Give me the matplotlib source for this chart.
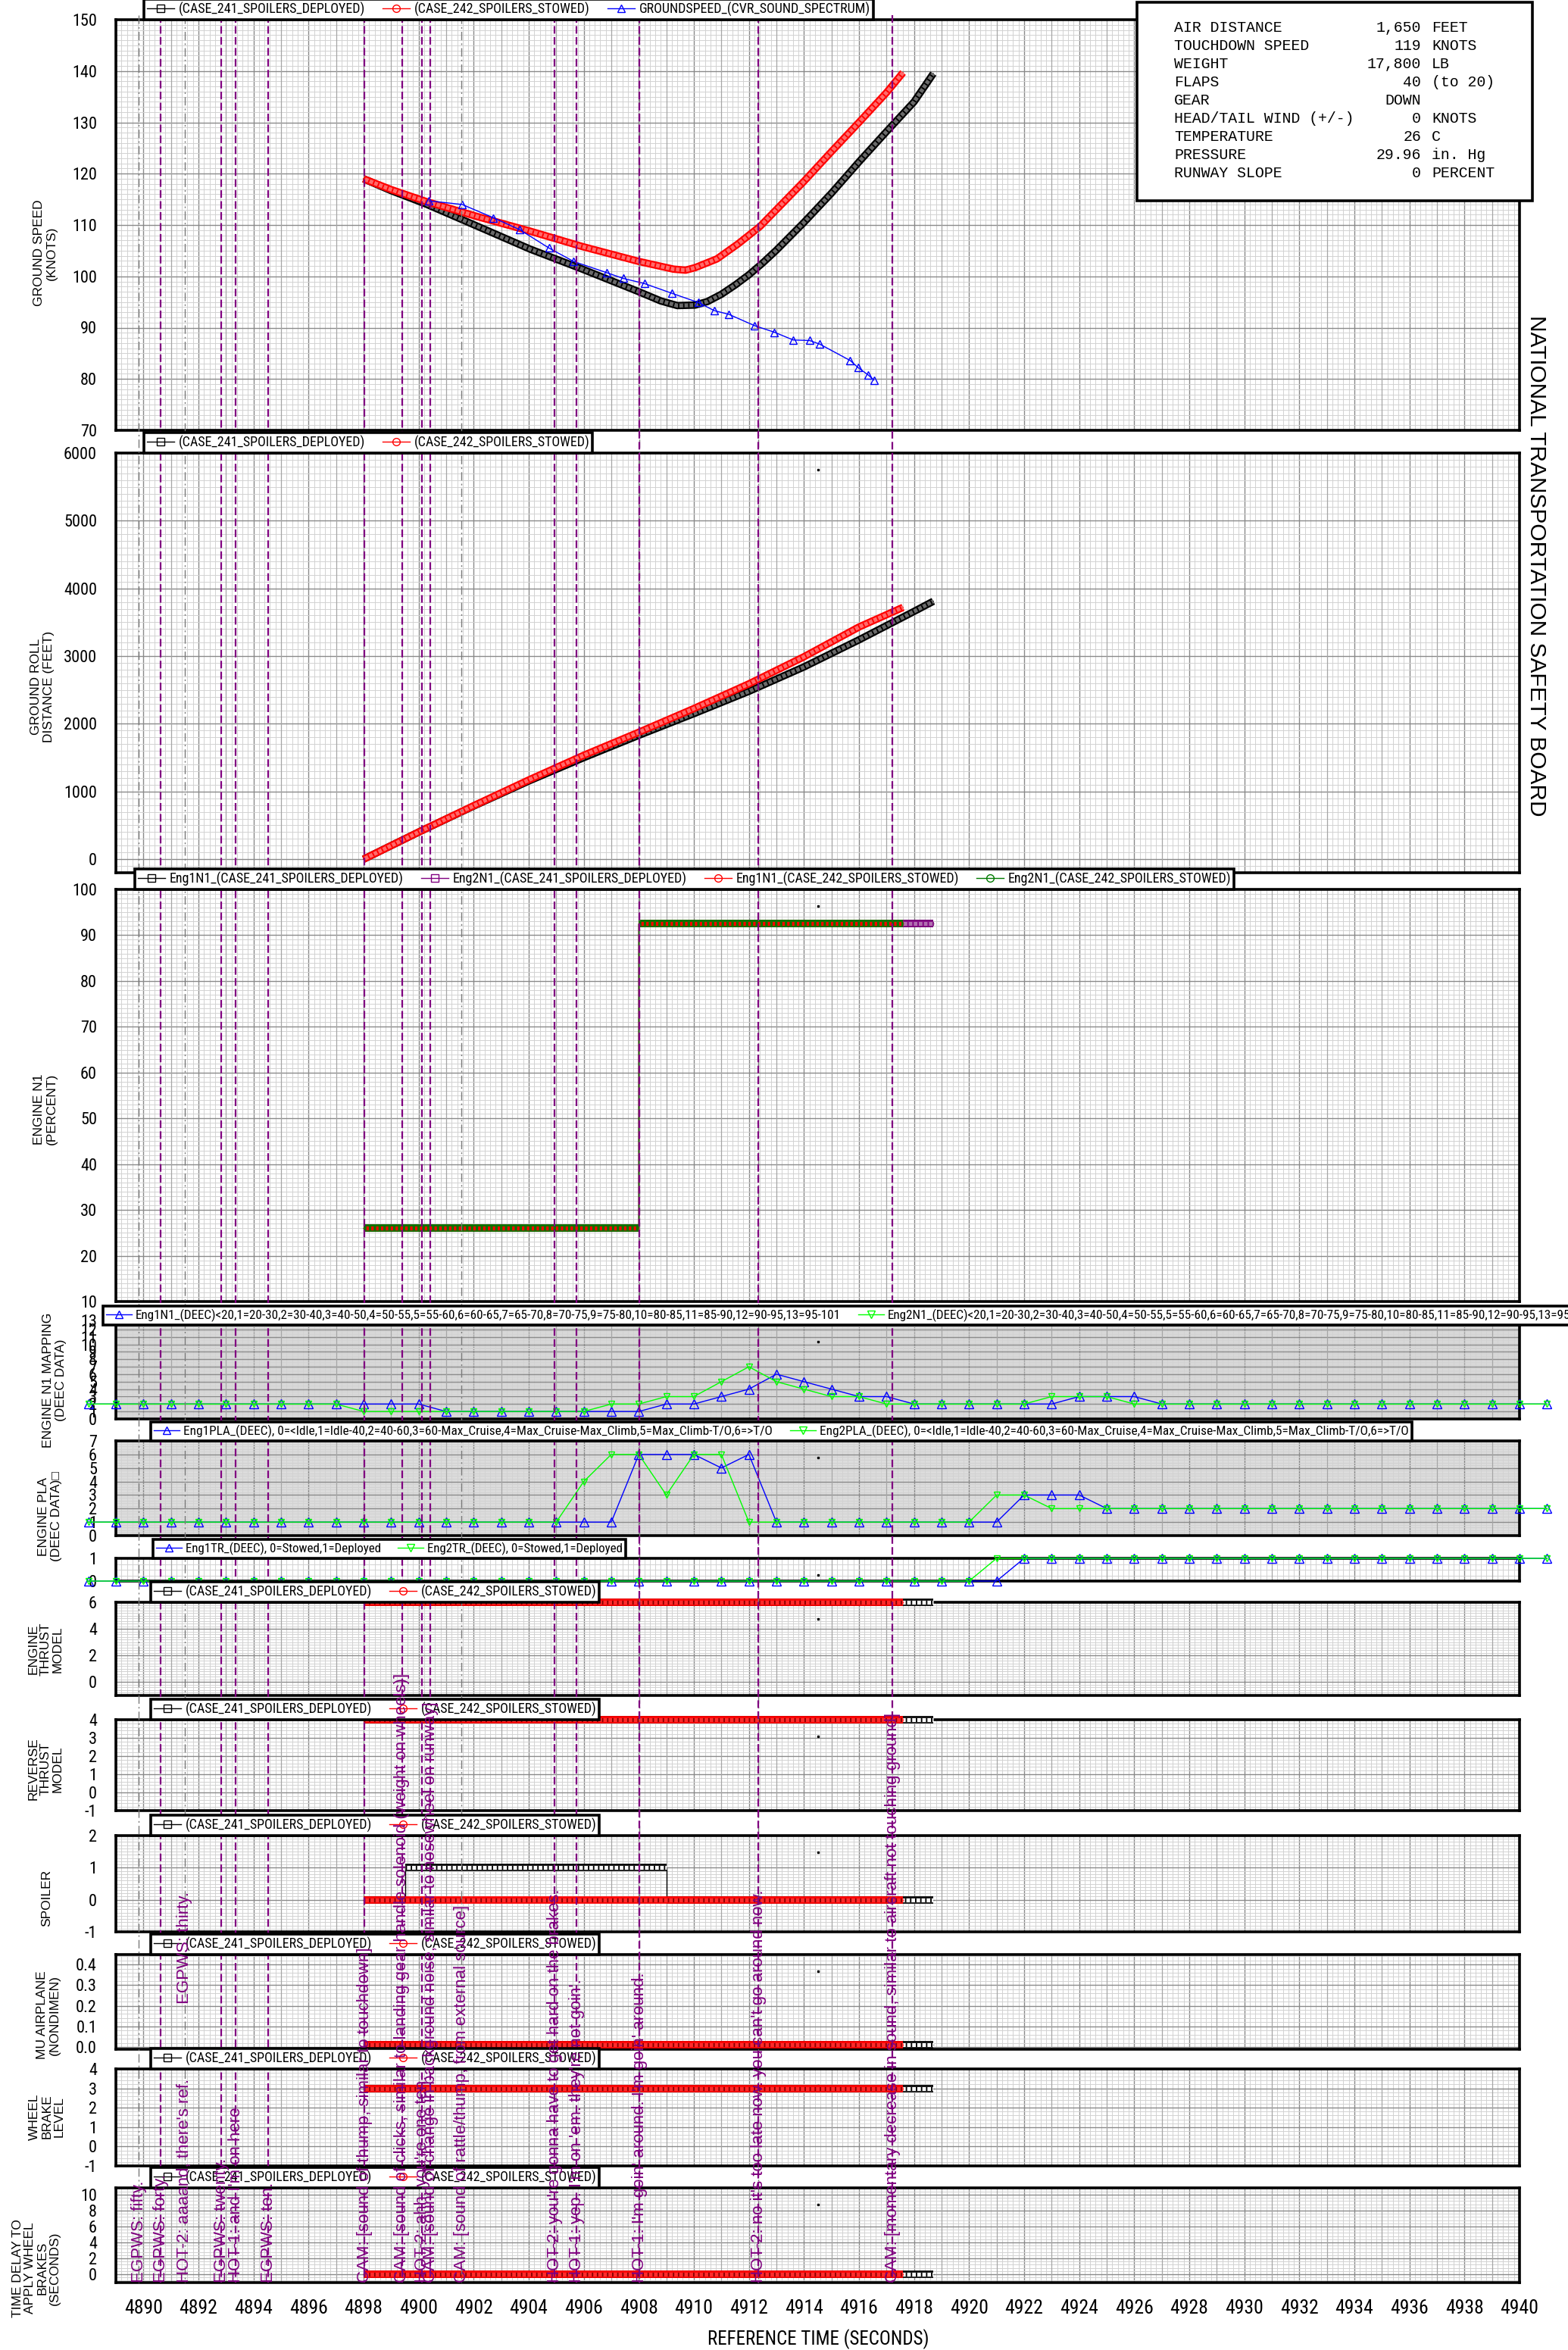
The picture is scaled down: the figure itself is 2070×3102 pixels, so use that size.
import numpy as np
import matplotlib
matplotlib.use("Agg")
import matplotlib.pyplot as plt
import matplotlib.transforms as mtransforms
from matplotlib.lines import Line2D
from matplotlib.patches import Rectangle
from matplotlib.ticker import MultipleLocator
from matplotlib import font_manager as fm
from matplotlib.font_manager import FontProperties

# ---------------------------------------------------------------- fonts
_entries = fm.fontManager.ttflist
_avail = {f.name for f in _entries}


def _is_regular(f):
    return f.style == "normal" and str(f.weight).lower() in ("400", "normal", "regular", "book")


def _find_narrow():
    prefs = ["Liberation Sans Narrow", "Arial Narrow", "Roboto Condensed", "Noto Sans Condensed",
             "DejaVu Sans Condensed", "Open Sans Condensed", "Noto Sans Display Condensed"]
    for p in prefs:
        for f in _entries:
            if f.name == p and _is_regular(f):
                return f.fname
    for fam in ["Liberation Sans", "Roboto", "Noto Sans", "DejaVu Sans", "Open Sans", "Lato", "Inter"]:
        for f in _entries:
            if f.name == fam and _is_regular(f) and str(f.stretch).lower() in ("condensed", "semi-condensed"):
                return f.fname
    for f in _entries:
        if ("Condensed" in f.name or "Narrow" in f.name) and _is_regular(f) and "Mono" not in f.name:
            return f.fname
    for fam in ["Roboto", "Liberation Sans"]:
        if fam in _avail:
            return fm.findfont(FontProperties(family=fam))
    return fm.findfont(FontProperties(family="DejaVu Sans"))


NARROW_FILE = _find_narrow()


def narrow(size):
    return FontProperties(fname=NARROW_FILE, size=size)


SANS = "Liberation Sans" if "Liberation Sans" in _avail else "DejaVu Sans"
MONO = "Liberation Mono" if "Liberation Mono" in _avail else "DejaVu Sans Mono"
plt.rcParams["font.family"] = [SANS, "DejaVu Sans"]

# ---------------------------------------------------------------- data
# Ground speed (knots)
gs241_t = [4898.0, 4899.0, 4900.26, 4902.16, 4904.05, 4905.95, 4908.0, 4908.8, 4909.4,
           4910.05, 4910.5, 4911.0, 4911.5, 4912.0, 4912.5, 4913.0, 4914.0, 4915.0,
           4916.0, 4917.0, 4918.0, 4918.7]
gs241_v = [119.0, 116.7, 114.1, 109.7, 105.3, 101.4, 97.0, 95.2, 94.3,
           94.4, 95.1, 96.5, 98.3, 100.3, 102.6, 105.1, 110.5, 116.2,
           122.3, 128.2, 134.0, 139.5]
gs242_t = [4898.0, 4899.0, 4900.26, 4902.16, 4904.05, 4905.95, 4908.0, 4909.26, 4909.7,
           4910.05, 4910.84, 4911.6, 4912.4, 4913.2, 4914.0, 4915.0, 4916.0, 4917.0, 4917.6]
gs242_v = [119.0, 116.9, 114.6, 111.6, 108.8, 105.8, 102.9, 101.4, 101.2,
           101.7, 103.4, 106.3, 109.7, 114.1, 118.5, 124.3, 130.0, 135.8, 139.7]
gs_cvr_t = [4900.38, 4901.58, 4902.72, 4903.67, 4904.74, 4905.63, 4906.84, 4907.43, 4908.2,
            4909.2, 4910.16, 4910.75, 4911.27, 4912.2, 4912.93, 4913.61, 4914.2, 4914.57,
            4915.68, 4915.97, 4916.33, 4916.54]
gs_cvr_v = [114.7, 114.0, 111.4, 109.1, 105.5, 102.9, 100.7, 99.6, 98.6,
            96.7, 94.9, 93.3, 92.6, 90.4, 89.1, 87.6, 87.5, 86.8,
            83.6, 82.2, 80.8, 79.8]

# Ground roll distance (feet)
roll241_t = [4898, 4900, 4902, 4904, 4906, 4908, 4910, 4912, 4914, 4916, 4918, 4918.7]
roll241_v = [0, 400, 785, 1155, 1500, 1830, 2150, 2480, 2840, 3240, 3660, 3810]
roll242_t = [4898, 4900, 4902, 4904, 4906, 4908, 4910, 4912, 4914, 4916, 4917.6]
roll242_v = [0, 400, 790, 1170, 1535, 1875, 2225, 2590, 2990, 3430, 3720]

# Engine N1 (percent), simulation cases
n1_241_t = [4898.0, 4908.0, 4908.0, 4918.7]
n1_241_v = [26.0, 26.0, 92.5, 92.5]
n1_242_t = [4898.0, 4908.0, 4908.0, 4917.6]
n1_242_v = [26.0, 26.0, 92.5, 92.5]

# DEEC recorded data, one sample per second
deec_t = np.arange(4888, 4942)
eng1_n1_map = [2, 2, 2, 2, 2, 2, 2, 2, 2, 2, 2, 2, 2,
               1, 1, 1, 1, 1, 1, 1, 1,
               2, 2, 3, 4, 6, 5, 4, 3, 3,
               2, 2, 2, 2, 2, 2,
               3, 3, 3,
               2, 2, 2, 2, 2, 2, 2, 2, 2, 2, 2, 2, 2, 2, 2]
eng2_n1_map = [2, 2, 2, 2, 2, 2, 2, 2, 2, 2,
               1, 1, 1, 1, 1, 1, 1, 1, 1,
               2, 2, 3, 3, 5, 7, 5, 4, 3, 3,
               2, 2, 2, 2, 2, 2,
               3, 3, 3,
               2, 2, 2, 2, 2, 2, 2, 2, 2, 2, 2, 2, 2, 2, 2, 2]
eng1_pla = [1] * 20 + [6, 6, 6, 5, 6] + [1] * 9 + [3, 3, 3] + [2] * 17
eng2_pla = [1] * 18 + [4, 6, 6, 3, 6, 6] + [1] * 9 + [3, 3] + [2] * 19
eng1_tr = [0] * 34 + [1] * 20
eng2_tr = [0] * 33 + [1] * 21

# Model outputs (constant levels over the ground roll)
end241, end242 = 4918.7, 4917.6
thrust_level = 6
reverse_level = 4
spl241_t = [4898.0, 4899.5, 4899.5, 4909.0, 4909.0, end241]
spl241_v = [0, 0, 1, 1, 0, 0]
spl242_t = [4898.0, end242]
spl242_v = [0, 0]
mu_level = 0.01
brake_level = 3
delay_level = 0

# Cockpit voice recorder annotations
cvr_t = [4889.83, 4890.63, 4891.50, 4891.50, 4892.83, 4893.36, 4894.54, 4898.04, 4899.40,
         4900.13, 4900.43, 4901.56, 4904.94, 4905.74, 4908.03, 4912.35, 4917.22]
cvr_text = [
    "EGPWS: fifty.",
    "EGPWS: forty.",
    "HOT-2: aaaand, there's ref.",
    "EGPWS: thirty.",
    "EGPWS: twenty.",
    "HOT-1: and I'm on here",
    "EGPWS: ten.",
    "CAM: [sound of thump, similar to touchdown]",
    "CAM: [sound of clicks, similar to landing gear handle solenoid (weight on wheels)]",
    "HOT-2: ahh, you're one ten.",
    "CAM: [sound of change in background noise, similar to nosewheel on runway]",
    "CAM: [sound of rattle/thump, from external source]",
    "HOT-2: you're gonna have to get hard on the brakes.",
    "HOT-1: yep. I'm on 'em. they're not goin'.",
    "HOT-1: I'm goin' around. I'm goin' around.",
    "HOT-2: no it's too late now. you can't go around now.",
    "CAM: [momentary decrease in sound, similar to aircraft not touching ground]",
]
cvr_text_base = [3013] * 17
cvr_text_base[3] = 2645
purple_line_t = [4890.63, 4892.83, 4893.36, 4894.54, 4898.04, 4899.40, 4900.13, 4900.43,
                 4904.94, 4905.74, 4908.03, 4912.35, 4917.22]
gray_line_t = [4889.83, 4891.50, 4901.56, 4908.03, 4912.35]

# Landing parameters
info_labels = ["AIR DISTANCE", "TOUCHDOWN SPEED", "WEIGHT", "FLAPS", "GEAR",
               "HEAD/TAIL WIND (+/-)", "TEMPERATURE", "PRESSURE", "RUNWAY SLOPE"]
info_values = ["1,650", "119", "17,800", "40", "DOWN", "0", "26", "29.96", "0"]
info_units = ["FEET", "KNOTS", "LB", "(to 20)", "", "KNOTS", "C", "in. Hg", "PERCENT"]

# ---------------------------------------------------------------- layout
W, H = 2070, 3102
fig = plt.figure(figsize=(W / 100, H / 100), dpi=100)
fig.patch.set_facecolor("white")
LEFT, RIGHT = 153, 2006
X0, X1 = 4889.0, 4940.0
XTICKS = list(range(4890, 4941, 2))

BLACK, RED, BLUE, GREEN, PURPLE = "#000000", "#ff0000", "#0000ff", "#00ff00", "#800080"
DKGREEN = "#007a00"
CVR_COLOR = "#7f007f"

# name, top px, bottom px, ylim, yticks, tick format, minor step, face
panels = [
    ("gs", 26, 568, (70, 150), list(range(70, 151, 10)), "%d", 1, "white"),
    ("roll", 598, 1152, (-200, 6000), list(range(0, 6001, 1000)), "%d", 100, "white"),
    ("n1", 1174, 1718, (10, 100), list(range(10, 101, 10)), "%d", 1, "white"),
    ("map", 1749, 1873, (0, 12.6), list(range(0, 13)), "%d", 0.2, "#dcdcdc"),
    ("pla", 1902, 2027, (0, 7), list(range(0, 8)), "%d", 0.2, "#dcdcdc"),
    ("tr", 2057, 2087, (0, 1), [0, 1], "%d", 0.25, "white"),
    ("thr", 2115, 2238, (-1, 6), [0, 2, 4, 6], "%d", 0.2, "white"),
    ("rev", 2270, 2390, (-1, 4), list(range(-1, 5)), "%d", 0.2, "white"),
    ("spl", 2423, 2550, (-1, 2), list(range(-1, 3)), "%d", 0.1, "white"),
    ("mu", 2580, 2705, (-0.011, 0.448), [0.0, 0.1, 0.2, 0.3, 0.4], "%.1f", 0.02, "white"),
    ("whl", 2731, 2859, (-1, 4), list(range(-1, 5)), "%d", 0.2, "white"),
    ("dly", 2888, 3013, (-1.05, 10.86), list(range(0, 11, 2)), "%d", 0.4, "white"),
]

axes = {}
for name, top, bot, ylim, yticks, fmt, minor, face in panels:
    ax = fig.add_axes([LEFT / W, 1 - bot / H, (RIGHT - LEFT) / W, (bot - top) / H])
    ax.set_facecolor(face)
    ax.set_xlim(X0, X1)
    ax.set_ylim(*ylim)
    if name == "dly":
        ax.set_xticks(XTICKS, labels=["%d" % v for v in XTICKS], fontproperties=narrow(18.5))
    else:
        ax.set_xticks(XTICKS)
        ax.tick_params(axis="x", labelbottom=False)
    ax.set_yticks(yticks, labels=[fmt % v for v in yticks], fontproperties=narrow(16))
    ax.xaxis.set_minor_locator(MultipleLocator(0.2))
    ax.yaxis.set_minor_locator(MultipleLocator(minor))
    ax.set_axisbelow(True)
    ax.grid(which="minor", color="#d2d2d2", lw=0.7)
    ax.grid(which="major", color="#8a8a8a", lw=1.0)
    odd = np.arange(4889, 4941, 2)
    ax.vlines(odd, 0, 1, transform=ax.get_xaxis_transform(), color="#a6a6a6", lw=0.9, zorder=0.6)
    ax.tick_params(which="both", length=0)
    ax.tick_params(axis="y", pad=18)
    ax.tick_params(axis="x", pad=16)
    for s in ax.spines.values():
        s.set_linewidth(2.6)
        s.set_color("black")
    if name != "gs":
        yf = 1 - 22 / (bot - top)
        ax.plot([4914.5], [yf], marker="s", ms=1.6, color="black",
                transform=mtransforms.blended_transform_factory(ax.transData, ax.transAxes),
                clip_on=False)
    axes[name] = ax

# "13" sits just above the mapping panel frame
axm = axes["map"]
axm.text(-25 / (RIGHT - LEFT), 13, "13", fontproperties=narrow(16), ha="right", va="center",
         transform=mtransforms.blended_transform_factory(axm.transAxes, axm.transData))


def band(ax, t, v, color, inner="white", tick=None, lw=7.0, z=3.0, tick_dash=(0.35, 0.9)):
    """Dense-marker style trace: outlined band with hatch, thin connector at steps."""
    t = np.asarray(t, float)
    v = np.asarray(v, float)
    tick = color if tick is None else tick
    ax.plot(t, v, color=color, lw=1.0, zorder=z, clip_on=False)
    brk = np.where(np.diff(t) == 0)[0]
    starts = np.r_[0, brk + 1]
    ends = np.r_[brk + 1, len(t)]
    for s, e in zip(starts, ends):
        ts, vs = t[s:e], v[s:e]
        if len(ts) < 2:
            continue
        ax.plot(ts, vs, color=color, lw=lw, solid_capstyle="butt", solid_joinstyle="round",
                zorder=z, clip_on=False)
        ax.plot(ts, vs, color=inner, lw=lw * 0.55, solid_capstyle="butt",
                solid_joinstyle="round", zorder=z + 0.01, clip_on=False)
        ax.plot(ts, vs, color=tick, lw=lw * 0.55, dashes=tick_dash, dash_capstyle="butt",
                zorder=z + 0.02, clip_on=False)


BLK_IN, RED_IN = "#6a6a6a", "#ff6a6a"

# Ground speed
ax = axes["gs"]
band(ax, gs241_t, gs241_v, BLACK, inner=BLK_IN, z=3.0)
band(ax, gs242_t, gs242_v, RED, inner=RED_IN, z=3.1)
ax.plot(gs_cvr_t, gs_cvr_v, color=BLUE, lw=1.0, marker="^", ms=6.5, mfc="none",
        mec=BLUE, mew=1.0, zorder=4)

# Ground roll distance
ax = axes["roll"]
band(ax, roll241_t, roll241_v, BLACK, inner=BLK_IN, z=3.0)
band(ax, roll242_t, roll242_v, RED, inner=RED_IN, z=3.1)

# Engine N1
ax = axes["n1"]
band(ax, n1_241_t, n1_241_v, BLACK, inner=BLK_IN, z=3.0)
band(ax, n1_241_t, n1_241_v, PURPLE, inner="#b070b0", z=3.1)
band(ax, n1_242_t, n1_242_v, RED, inner=RED_IN, z=3.2)
band(ax, n1_242_t, n1_242_v, DKGREEN, inner=RED, tick=DKGREEN, z=3.3, tick_dash=(0.6, 0.6))

# DEEC traces
for name, s1, s2 in [("map", eng1_n1_map, eng2_n1_map), ("pla", eng1_pla, eng2_pla),
                     ("tr", eng1_tr, eng2_tr)]:
    ax = axes[name]
    ax.plot(deec_t, s1, color=BLUE, lw=1.0, marker="^", ms=8, mfc="none", mec=BLUE,
            mew=1.0, zorder=4, clip_on=False)
    ax.plot(deec_t, s2, color=GREEN, lw=1.0, marker="v", ms=6, mfc="none", mec=GREEN,
            mew=1.0, zorder=4.1, clip_on=False)

# Constant model levels
for name, lvl in [("thr", thrust_level), ("rev", reverse_level), ("mu", mu_level),
                  ("whl", brake_level), ("dly", delay_level)]:
    ax = axes[name]
    band(ax, [4898.0, end241], [lvl, lvl], BLACK, inner="white", z=3.0)
    band(ax, [4898.0, end242], [lvl, lvl], RED, inner="#ff2a2a", tick="#8a0000", z=3.1)

ax = axes["spl"]
band(ax, spl241_t, spl241_v, BLACK, inner="white", z=3.0)
band(ax, spl242_t, spl242_v, RED, inner="#ff2a2a", tick="#8a0000", z=3.1)

# ---------------------------------------------------------------- event lines and notes
ax_ov = fig.add_axes([LEFT / W, 0, (RIGHT - LEFT) / W, 1])
ax_ov.set_xlim(X0, X1)
ax_ov.set_ylim(H, 0)
ax_ov.axis("off")
ax_ov.patch.set_alpha(0)
ax_ov.set_zorder(3)
for t in gray_line_t:
    ax_ov.plot([t, t], [20, 3013], color="#7a7a7a", lw=1.0, dashes=(8, 3, 1.5, 3))
for t in purple_line_t:
    ax_ov.plot([t, t], [20, 3013], color=PURPLE, lw=1.6, dashes=(4.5, 2))

for t, txt, yb in zip(cvr_t, cvr_text, cvr_text_base):
    fig.text(t, yb, txt, rotation=90, ha="center", va="bottom", color=CVR_COLOR,
             fontsize=16, family=[SANS, "DejaVu Sans"], transform=ax_ov.transData, zorder=12)

# ---------------------------------------------------------------- legends
def h(color, marker, ms=7):
    return Line2D([], [], color=color, lw=1.0, marker=marker, ms=ms, mfc="none", mec=color)


case_handles = [h(BLACK, "s"), h(RED, "o")]
case_labels = ["(CASE_241_SPOILERS_DEPLOYED)", "(CASE_242_SPOILERS_STOWED)"]
n1map_lbl = ("_(DEEC)<20,1=20-30,2=30-40,3=40-50,4=50-55,5=55-60,6=60-65,7=65-70,"
             "8=70-75,9=75-80,10=80-85,11=85-90,12=90-95,13=95-101")
pla_lbl = ("_(DEEC), 0=<Idle,1=Idle-40,2=40-60,3=60-Max_Cruise,4=Max_Cruise-Max_Climb,"
           "5=Max_Climb-T/O,6=>T/O")
tr_lbl = "_(DEEC), 0=Stowed,1=Deployed"

# name: (left px, font size, handles, labels)
legend_specs = {
    "gs": (190, 13.0, case_handles + [h(BLUE, "^")],
           case_labels + ["GROUNDSPEED_(CVR_SOUND_SPECTRUM)"]),
    "roll": (190, 13.0, case_handles, case_labels),
    "n1": (178, 13.0, [h(BLACK, "s"), h(PURPLE, "s"), h(RED, "o"), h(DKGREEN, "o")],
           ["Eng1N1_(CASE_241_SPOILERS_DEPLOYED)", "Eng2N1_(CASE_241_SPOILERS_DEPLOYED)",
            "Eng1N1_(CASE_242_SPOILERS_STOWED)", "Eng2N1_(CASE_242_SPOILERS_STOWED)"]),
    "map": (136, 12.35, [h(BLUE, "^"), h(GREEN, "v")],
            ["Eng1N1" + n1map_lbl, "Eng2N1" + n1map_lbl]),
    "pla": (199, 12.4, [h(BLUE, "^"), h(GREEN, "v")], ["Eng1PLA" + pla_lbl, "Eng2PLA" + pla_lbl]),
    "tr": (202, 12.2, [h(BLUE, "^"), h(GREEN, "v")], ["Eng1TR" + tr_lbl, "Eng2TR" + tr_lbl]),
}
for name in ["thr", "rev", "spl", "mu", "whl", "dly"]:
    legend_specs[name] = (199, 13.0, case_handles, case_labels)

tops = {p[0]: p[1] for p in panels}
for name, (x0, fsz, hs, ls) in legend_specs.items():
    leg = fig.legend(hs, ls, loc="lower left", bbox_to_anchor=(x0 / W, 1 - tops[name] / H),
                     bbox_transform=fig.transFigure, ncol=len(hs), frameon=True,
                     fancybox=False, edgecolor="black", framealpha=1, borderaxespad=0,
                     borderpad=0.22, handlelength=2.0, handletextpad=0.3,
                     columnspacing=1.3, prop=narrow(fsz))
    leg.get_frame().set_linewidth(2.6)
    leg.set_zorder(10)

# ---------------------------------------------------------------- axis titles
ylabels = [
    ("GROUND SPEED\n(KNOTS)", 60, 334),
    ("GROUND ROLL\nDISTANCE (FEET)", 56, 906),
    ("ENGINE N1\n(PERCENT)", 60, 1464),
    ("ENGINE N1 MAPPING\n(DEEC DATA)", 72, 1822),
    ("ENGINE PLA\n(DEEC DATA)\u25a1", 66, 2002),
    ("ENGINE\nTHRUST\nMODEL", 60, 2177),
    ("REVERSE\nTHRUST\nMODEL", 60, 2335),
    ("SPOILER", 62, 2505),
    ("MU AIRPLANE\n(NONDIMEN)", 64, 2660),
    ("WHEEL\nBRAKE\nLEVEL", 62, 2794),
    ("TIME DELAY TO\nAPPLY WHEEL\nBRAKES\n(SECONDS)", 48, 2994),
]
for txt, x, y in ylabels:
    fig.text(x / W, 1 - y / H, txt, rotation=90, ha="center", va="center",
             multialignment="center", fontsize=12.5, linespacing=1.1,
             family=[SANS, "DejaVu Sans"], zorder=6)

fig.text(1080 / W, 1 - 3088 / H, "REFERENCE TIME (SECONDS)", ha="center", va="center",
         fontproperties=narrow(18))

fig.text(2028 / W, 1 - 747 / H, "NATIONAL TRANSPORTATION SAFETY BOARD", rotation=270,
         ha="center", va="center", fontsize=21.5, family=[SANS, "DejaVu Sans"])

# ---------------------------------------------------------------- parameter box
box = Rectangle((1501 / W, 1 - 265 / H), (2023 - 1501) / W, (265 - 3) / H,
                transform=fig.transFigure, facecolor="white", edgecolor="black",
                linewidth=2.6, zorder=8)
fig.patches.append(box)
for i, (lab, val, unit) in enumerate(zip(info_labels, info_values, info_units)):
    y = 1 - (36 + 24 * i) / H
    fig.text(1550 / W, y, lab, ha="left", va="center", fontsize=14.3, family=MONO, zorder=9)
    fig.text(1876 / W, y, val, ha="right", va="center", fontsize=14.3, family=MONO, zorder=9)
    fig.text(1890 / W, y, unit, ha="left", va="center", fontsize=14.3, family=MONO, zorder=9)

fig.savefig("out.png", dpi=100, facecolor="white")
